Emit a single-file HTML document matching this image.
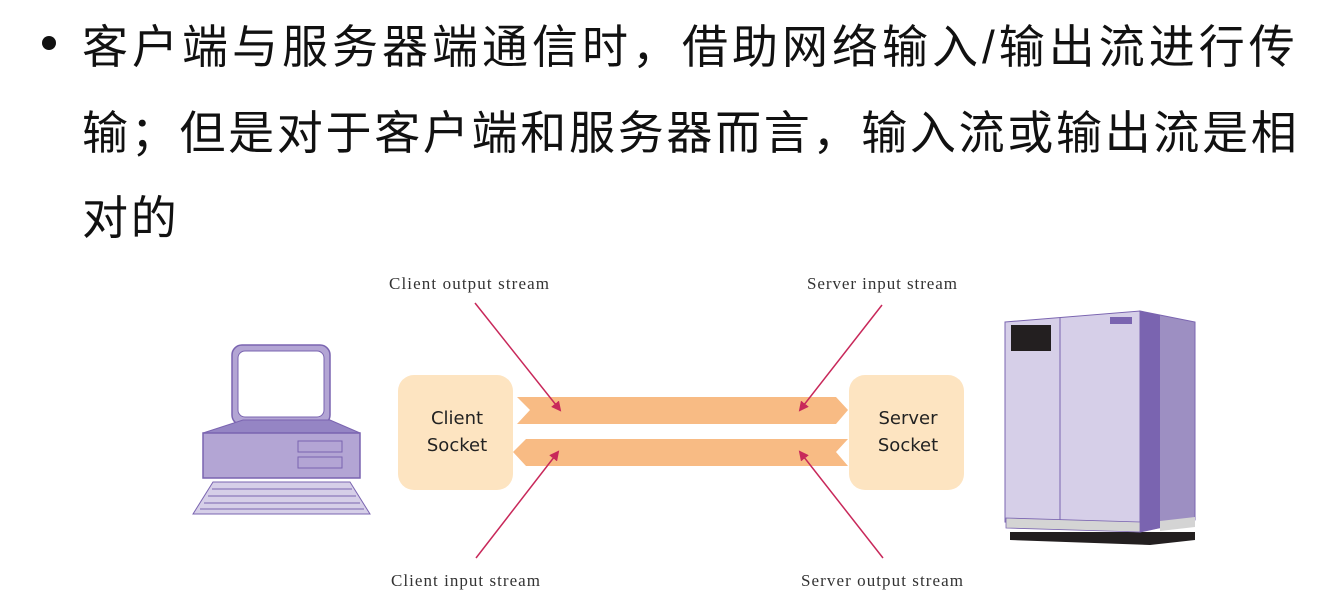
<!DOCTYPE html>
<html><head><meta charset="utf-8"><style>
body{margin:0;width:1339px;height:601px;background:#fff;overflow:hidden;position:relative;font-family:"Liberation Sans","Noto Sans CJK SC",sans-serif}
.t{position:absolute;left:82px;font-size:46px;letter-spacing:2.7px;color:#111;white-space:nowrap;line-height:1}
.b{position:absolute;left:42px;top:36px;width:14px;height:14px;border-radius:50%;background:#111}
svg{position:absolute;left:0;top:0}
</style></head><body>
<div class="b"></div>
<div class="t" style="top:24px;letter-spacing:4px">客户端与服务器端通信时，借助网络输入/输出流进行传</div>
<div class="t" style="top:110px">输；但是对于客户端和服务器而言，输入流或输出流是相</div>
<div class="t" style="top:195px">对的</div>
<svg width="1339" height="601">
<defs><marker id="a" markerWidth="10" markerHeight="10" refX="8" refY="5" orient="auto" markerUnits="userSpaceOnUse"><path d="M0,0 L10,5 L0,10 z" fill="#c8285a"/></marker></defs>
<rect x="232" y="345" width="98" height="80" rx="10" fill="#b3a5d4" stroke="#7a64b0" stroke-width="1.5"/>
<rect x="238" y="351" width="86" height="66" rx="7" fill="#fff" stroke="#7a64b0"/>
<polygon points="243,420 330,420 360,433 203,433" fill="#9585c4" stroke="#7a64b0"/>
<rect x="203" y="433" width="157" height="45" fill="#b3a5d4" stroke="#7a64b0" stroke-width="1.5"/>
<rect x="298" y="441" width="44" height="11" fill="#b3a5d4" stroke="#7a64b0"/>
<rect x="298" y="457" width="44" height="11" fill="#b3a5d4" stroke="#7a64b0"/>
<polygon points="213,482 350,482 370,514 193,514" fill="#d6cfe8" stroke="#7a64b0"/>
<g stroke="#7a64b0"><line x1="212" y1="489" x2="352" y2="489"/><line x1="208" y1="496" x2="356" y2="496"/><line x1="204" y1="503" x2="360" y2="503"/><line x1="200" y1="509" x2="364" y2="509"/></g>
<rect x="398" y="375" width="115" height="115" rx="16" fill="#fde4c1"/>
<rect x="849" y="375" width="115" height="115" rx="16" fill="#fde4c1"/>
<g font-family="DejaVu Sans,sans-serif" font-size="18" fill="#222" text-anchor="middle">
<text x="457" y="424">Client</text><text x="457" y="451">Socket</text>
<text x="908" y="424">Server</text><text x="908" y="451">Socket</text></g>
<polygon points="517,397 836,397 848,410 836,424 517,424 530,410" fill="#f8bb84"/>
<polygon points="526,439 848,439 836,452 848,466 526,466 513,452" fill="#f8bb84"/>
<g stroke="#c8285a" stroke-width="1.5" marker-end="url(#a)">
<line x1="475" y1="303" x2="560" y2="410"/>
<line x1="882" y1="305" x2="800" y2="410"/>
<line x1="476" y1="558" x2="558" y2="452"/>
<line x1="883" y1="558" x2="800" y2="452"/>
</g>
<g font-family="Liberation Serif,serif" font-size="17" fill="#333" lengthAdjust="spacing">
<text x="389" y="289" textLength="160">Client output stream</text>
<text x="807" y="289" textLength="150">Server input stream</text>
<text x="391" y="586" textLength="149">Client input stream</text>
<text x="801" y="586" textLength="162">Server output stream</text></g>
<polygon points="1010,532 1195,532 1195,540 1150,545 1010,540" fill="#231f20"/>
<polygon points="1140,311 1195,322 1195,520 1140,532" fill="#9d8fc2" stroke="#7a64b0"/>
<polygon points="1140,311 1160,315 1160,528 1140,532" fill="#7a64b0"/>
<polygon points="1005,322 1140,311 1140,532 1005,522" fill="#d6cfe8" stroke="#7a64b0"/>
<line x1="1060" y1="318" x2="1060" y2="527" stroke="#7a64b0"/>
<rect x="1011" y="325" width="40" height="26" fill="#231f20"/>
<rect x="1110" y="317" width="22" height="7" fill="#7a64b0"/>
<polygon points="1006,518 1140,522 1140,532 1006,528" fill="#d4d4d4" stroke="#7a64b0" stroke-width="0.8"/>
<polygon points="1160,521 1195,517 1195,527 1160,531" fill="#d4d4d4"/>
</svg>
</body></html>
